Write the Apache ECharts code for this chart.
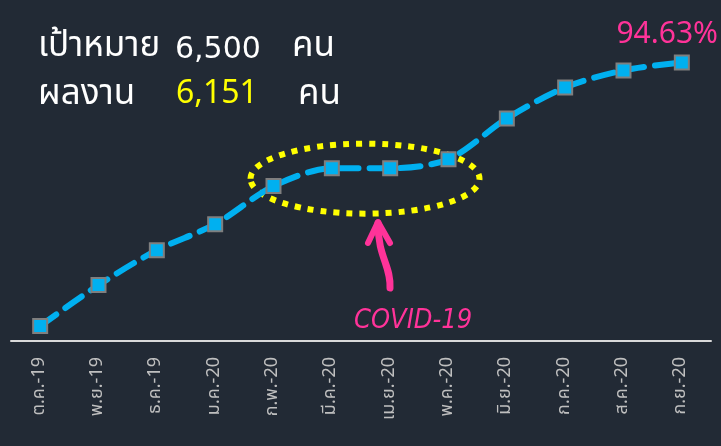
<!DOCTYPE html>
<html>
<head>
<meta charset="utf-8">
<script src="https://cdn.jsdelivr.net/npm/echarts@6/dist/echarts.min.js"></script>
<style>
  html, body { margin: 0; padding: 0; background: #222a35; }
  #chart { width: 721px; height: 446px; }
</style>
</head>
<body>
<div id="chart"></div>
<script>
  // เดือน (ต.ค.-19 ถึง ก.ย.-20)
  const months = ["ต.ค.-19", "พ.ย.-19", "ธ.ค.-19", "ม.ค.-20", "ก.พ.-20", "มี.ค.-20", "เม.ย.-20", "พ.ค.-20", "มิ.ย.-20", "ก.ค.-20", "ส.ค.-20", "ก.ย.-20"];
  // ผลงานสะสม (คน)
  const cumulative = [330, 1235, 2005, 2580, 3420, 3815, 3815, 4015, 4915, 5600, 5975, 6151];
  const target = 6500;
  const actual = 6151;

  const fmt = (n) => n.toLocaleString("en-US");
  const pct = ((actual / target) * 100).toFixed(2) + "%";
  const thai = "'Noto Sans Thai', 'Noto Sans', 'DejaVu Sans', sans-serif";
  const num = "'DejaVu Sans', sans-serif";

  const chart = echarts.init(document.getElementById("chart"));
  chart.setOption({
    backgroundColor: "#222a35",
    animation: false,
    grid: { left: 11, right: 10, top: 24, bottom: 105 },
    xAxis: {
      type: "category",
      data: months,
      boundaryGap: true,
      axisLine: { lineStyle: { color: "#d9d9d9", width: 2 } },
      axisTick: { show: false },
      axisLabel: { rotate: 90, color: "#bfbfbf", fontSize: 18, margin: 16, fontFamily: thai },
    },
    yAxis: {
      type: "value",
      min: 0,
      max: 7000,
      show: false,
      splitLine: { show: false },
    },
    series: [
      {
        type: "line",
        data: cumulative,
        smooth: 0.3,
        symbol: "rect",
        symbolSize: 14,
        z: 3,
        lineStyle: { color: "#00b0f0", width: 6, type: [20, 11], cap: "round" },
        itemStyle: { color: "#00b0f0", borderColor: "#7f7f7f", borderWidth: 2 },
      },
    ],
  });

  // วงรีเน้นช่วง COVID-19 (ก.พ.-20 ถึง พ.ค.-20)
  const pA = chart.convertToPixel({ seriesIndex: 0 }, [4, cumulative[4]]);
  const pB = chart.convertToPixel({ seriesIndex: 0 }, [7, cumulative[7]]);
  const cx = (pA[0] + pB[0]) / 2 + 4;
  const cy = (pA[1] + pB[1]) / 2 + 6;
  const rx = (pB[0] - pA[0]) / 2 + 27;

  const big = (txt, x, y, color, font) => ({
    type: "text",
    x: x,
    y: y,
    style: { text: txt, fill: color, font: font, verticalAlign: "middle" },
  });

  chart.setOption({
    graphic: [
      big("เป้าหมาย", 38, 49, "#ffffff", "35px " + thai),
      big(fmt(target), 175, 50, "#ffffff", "30px " + num),
      big("คน", 292, 49, "#ffffff", "35px " + thai),
      big("ผลงาน", 38, 97, "#ffffff", "35px " + thai),
      big(fmt(actual), 176, 97, "#ffff00", "32px " + thai),
      big("คน", 298, 97, "#ffffff", "35px " + thai),
      { type: "text", x: 718, y: 37, style: { text: pct, fill: "#ff3399", font: "30px " + thai, align: "right", verticalAlign: "middle" } },
      {
        type: "ellipse",
        shape: { cx: cx, cy: cy, rx: rx, ry: 35 },
        style: { fill: "none", stroke: "#ffff00", lineWidth: 6, lineDash: [6, 7] },
        z: 1,
      },
      {
        type: "bezierCurve",
        shape: { x1: 390, y1: 288, cpx1: 391, cpy1: 265, cpx2: 378, cpy2: 258, x2: 378, y2: 223 },
        style: { fill: "none", stroke: "#ff3399", lineWidth: 7, lineCap: "round" },
      },
      {
        type: "polyline",
        shape: { points: [[368, 243], [378, 222], [390, 243]] },
        style: { fill: "none", stroke: "#ff3399", lineWidth: 6, lineCap: "round", lineJoin: "round" },
      },
      {
        type: "text",
        x: 354,
        y: 321,
        style: { text: "COVID-19", fill: "#ff3399", font: "italic 27px 'Liberation Sans Narrow', 'DejaVu Sans Condensed', sans-serif", verticalAlign: "middle" },
      },
    ],
  });
</script>
</body>
</html>
